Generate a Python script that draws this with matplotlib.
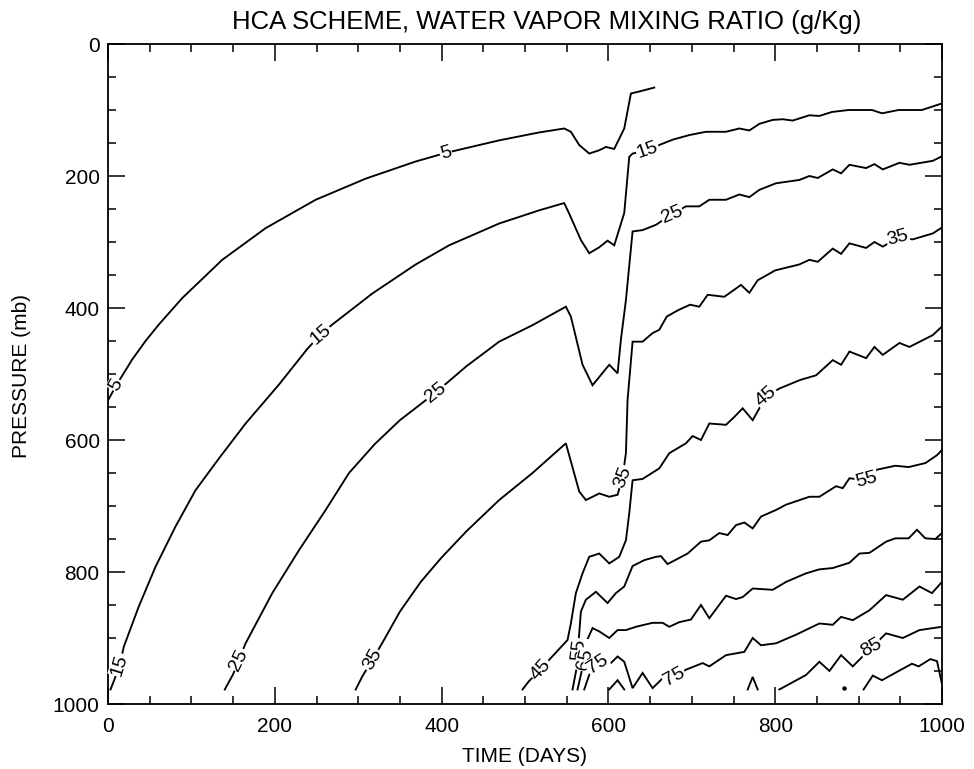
import numpy as np
import matplotlib
matplotlib.use('Agg')
import matplotlib.pyplot as plt
from matplotlib.ticker import MultipleLocator

# contour lines of water vapor mixing ratio, (day, pressure mb)
c5_day=[0,10,29,45,61,89,137,189,249,309,369,405,469,517,547,555,565,577,589,597,607,619,627,637,655]
c5_p=[540,517,478,450,425,385,327,279,236,204,178,165,146,134,128,133,153,166,161,156,159,128,75,72,66]

c15_day=[3,8,14,19,37,57,81,105,133,165,205,239,255,269,317,369,409,469,517,547,553,567,577,589,599,607,619,625,629,647,661,677,697,717,741,757,769,781,797,809,821,841,853,868,888,916,928,948,976,988,1000]
c15_p=[978,962,941,913,852,792,731,676,628,575,516,462,440,425,378,334,305,272,252,241,257,297,317,308,298,305,256,171,166,161,153,145,138,133,133,128,131,121,115,114,116,108,109,103,100,100,105,100,100,95,90]

c25_day=[140,150,165,197,229,261,289,320,350,393,430,469,509,549,555,569,581,601,611,615,621,629,641,657,676,693,709,721,741,757,769,781,801,829,841,851,869,879,889,909,919,929,949,961,989,1000]
c25_p=[978,955,908,832,767,706,650,606,570,528,488,451,426,398,413,486,517,486,499,448,388,284,282,274,258,246,246,236,236,228,232,221,211,206,200,203,190,196,183,188,182,190,180,183,177,170]

c35_day=[297,305,317,330,350,375,400,430,469,509,549,565,573,589,601,611,617,621,623,629,641,653,661,670,684,698,709,719,739,759,769,779,800,829,841,851,869,879,889,909,919,929,947,965,989,1000]
c35_p=[978,958,933,905,860,815,778,738,691,650,605,678,691,681,686,683,656,620,539,451,451,438,433,413,403,395,398,380,383,365,377,358,343,334,327,330,310,318,302,309,300,307,294,296,287,278]

c45_day=[497,505,519,529,551,555,561,569,577,589,601,613,621,625,629,641,661,673,693,701,711,721,741,751,761,773,789,805,830,849,869,879,889,909,919,929,949,961,989,1000]
c45_p=[978,965,948,933,903,878,832,802,777,772,787,777,752,711,661,659,643,620,605,594,600,575,577,565,552,570,534,522,509,502,479,486,466,476,459,471,453,459,441,428]

c55_day=[557,562,565,567,573,585,599,609,619,629,643,657,663,671,695,711,721,733,743,753,763,773,783,801,813,841,853,873,881,889,910,922,944,960,980,994,1000]
c55_p=[978,945,893,860,842,830,847,832,822,791,782,777,776,788,772,754,752,741,744,729,725,734,716,706,698,686,686,670,673,658,661,645,639,641,635,623,615]

c65_day=[563,568,571,581,589,601,611,621,633,653,665,673,685,699,711,721,741,753,761,773,797,813,837,853,869,889,901,913,933,944,960,970,980,992,1000]
c65_p=[978,950,913,885,890,900,888,888,883,877,877,883,876,872,850,870,836,841,838,825,827,815,802,796,794,786,772,771,754,749,749,736,749,750,741]

c75_day=[571,577,587,599,611,619,629,641,653,665,679,693,713,721,741,763,773,783,801,825,853,869,879,893,913,933,953,973,988,1000]
c75_p=[978,956,940,943,928,936,976,953,976,961,959,948,938,943,926,921,900,911,908,895,878,880,868,873,858,835,842,822,832,815]

c85_day=[805,837,853,865,879,893,915,933,953,973,1000]
c85_p=[978,956,936,950,926,943,915,893,900,888,883]

c95_day=[906,917,928,948,964,972,986,994,1000]
c95_p=[978,957,964,950,939,943,932,935,970]

bump1_day=[601,611,619]
bump1_p=[978,964,978]
bump2_day=[767,773,779]
bump2_p=[978,959,978]
dot_day=[883]
dot_p=[976]

lines=[(c5_day,c5_p),(c15_day,c15_p),(c25_day,c25_p),(c35_day,c35_p),(c45_day,c45_p),
       (c55_day,c55_p),(c65_day,c65_p),(c75_day,c75_p),(c85_day,c85_p),(c95_day,c95_p),
       (bump1_day,bump1_p),(bump2_day,bump2_p)]

# label text, index into lines, day, pressure
label_text=['5','5','15','15','15','25','25','25','35','35','35','45','45','55','55','65','75','75','85']
label_line=[0,0,1,1,1,2,2,2,3,3,3,4,4,5,5,6,7,7,8]
label_day=[10,405,14,255,647,157,393,676,317,617,947,519,789,565,910,572,587,679,915]
label_p=[517,165,941,440,161,933,528,258,933,656,294,948,534,918,661,933,940,959,915]

W,H=974,769
fig=plt.figure(figsize=(W/100,H/100),dpi=100)
ax=fig.add_axes([108/W,1-704/H,(942-108)/W,(704-44)/H])
ax.set_xlim(0,1000)
ax.set_ylim(1000,0)

for xs,ys in lines:
    ax.plot(xs,ys,color='black',lw=1.35,solid_joinstyle='miter')
ax.plot(dot_day,dot_p,'o',color='black',ms=2.2)

sans=['Liberation Sans','DejaVu Sans']

def label_angle(xs,ys,x0,y0):
    pts=ax.transData.transform(np.column_stack([xs,ys]))
    q=ax.transData.transform((x0,y0))
    mids=(pts[:-1]+pts[1:])/2
    i=int(np.argmin(np.hypot(mids[:,0]-q[0],mids[:,1]-q[1])))
    a=max(i-1,0); b=min(i+2,len(pts)-1)
    dx,dy=pts[b]-pts[a]
    ang=np.degrees(np.arctan2(dy,dx))
    if ang>90: ang-=180
    if ang<=-90: ang+=180
    return ang

for t,li,d,p in zip(label_text,label_line,label_day,label_p):
    xs,ys=lines[li]
    ang=label_angle(xs,ys,d,p)
    ax.text(d,p,t,rotation=ang,rotation_mode='anchor',ha='center',va='center',
            fontsize=14,family=sans,
            bbox=dict(fc='white',ec='none',pad=0.6))

ax.xaxis.set_major_locator(MultipleLocator(200))
ax.xaxis.set_minor_locator(MultipleLocator(50))
ax.yaxis.set_major_locator(MultipleLocator(200))
ax.yaxis.set_minor_locator(MultipleLocator(50))
ax.tick_params(which='both',direction='in',top=True,right=True,width=1.1)
ax.tick_params(which='major',length=12,labelsize=15,pad=9)
ax.tick_params(which='minor',length=6)
ax.tick_params(axis='y',which='major',pad=6)
for lab in ax.get_xticklabels()+ax.get_yticklabels():
    lab.set_family(sans)
for s in ax.spines.values():
    s.set_linewidth(1.3)

fig.text(547/W,1-22/H,'HCA SCHEME, WATER VAPOR MIXING RATIO (g/Kg)',ha='center',va='center',
         fontsize=18.5,family=sans)
fig.text(524/W,1-756/H,'TIME (DAYS)',ha='center',va='center',fontsize=15,family=sans)
fig.text(22/W,1-376/H,'PRESSURE (mb)',ha='center',va='center',rotation=90,fontsize=15,family=sans)

fig.savefig('out.png',dpi=100)
